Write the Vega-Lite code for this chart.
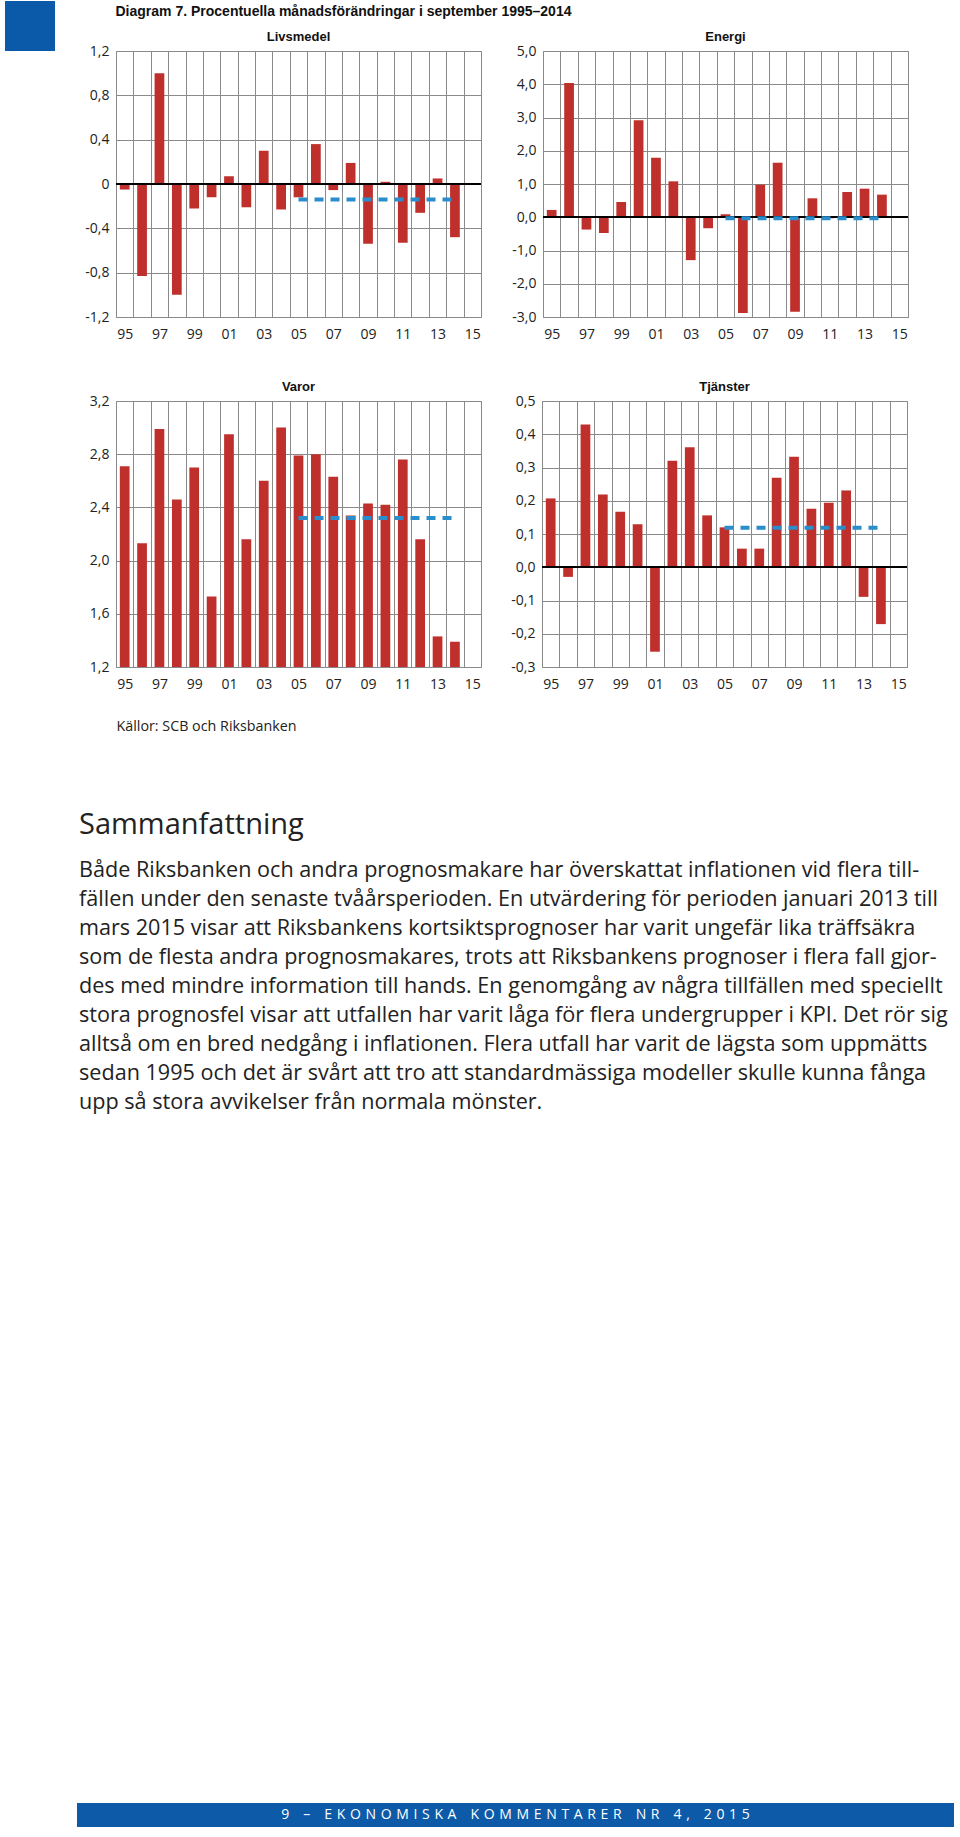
{
  "$schema": "https://vega.github.io/schema/vega-lite/v6.json",
  "background": "white",
  "padding": {"left": 5, "top": 1, "right": 0, "bottom": 0},
  "config": {
    "view": {"stroke": "#8a8a8a"},
    "axis": {"gridColor": "#8a8a8a", "gridOpacity": 1, "gridWidth": 1, "labelFont": "Open Sans", "labelFontSize": 14, "labelColor": "#222222", "labelOverlap": false},
    "title": {"font": "Liberation Sans", "fontWeight": "bold", "color": "#111111"}
  },
  "datasets": {
    "livsmedel": [
      {"year": 1995, "value": -0.05}, {"year": 1996, "value": -0.83}, {"year": 1997, "value": 1.0}, {"year": 1998, "value": -1.0},
      {"year": 1999, "value": -0.22}, {"year": 2000, "value": -0.12}, {"year": 2001, "value": 0.07}, {"year": 2002, "value": -0.21},
      {"year": 2003, "value": 0.3}, {"year": 2004, "value": -0.23}, {"year": 2005, "value": -0.12}, {"year": 2006, "value": 0.36},
      {"year": 2007, "value": -0.055}, {"year": 2008, "value": 0.19}, {"year": 2009, "value": -0.54}, {"year": 2010, "value": 0.02},
      {"year": 2011, "value": -0.53}, {"year": 2012, "value": -0.26}, {"year": 2013, "value": 0.05}, {"year": 2014, "value": -0.48}
    ],
    "livsmedel_avg": [{"year": 2005, "value": -0.14}, {"year": 2014, "value": -0.14}],
    "energi": [
      {"year": 1995, "value": 0.22}, {"year": 1996, "value": 4.04}, {"year": 1997, "value": -0.37}, {"year": 1998, "value": -0.47},
      {"year": 1999, "value": 0.46}, {"year": 2000, "value": 2.92}, {"year": 2001, "value": 1.79}, {"year": 2002, "value": 1.08},
      {"year": 2003, "value": -1.29}, {"year": 2004, "value": -0.33}, {"year": 2005, "value": 0.09}, {"year": 2006, "value": -2.88},
      {"year": 2007, "value": 0.98}, {"year": 2008, "value": 1.64}, {"year": 2009, "value": -2.84}, {"year": 2010, "value": 0.57},
      {"year": 2011, "value": -0.03}, {"year": 2012, "value": 0.76}, {"year": 2013, "value": 0.86}, {"year": 2014, "value": 0.68}
    ],
    "energi_avg": [{"year": 2005, "value": -0.03}, {"year": 2014, "value": -0.03}],
    "varor": [
      {"year": 1995, "value": 2.71}, {"year": 1996, "value": 2.13}, {"year": 1997, "value": 2.99}, {"year": 1998, "value": 2.46},
      {"year": 1999, "value": 2.7}, {"year": 2000, "value": 1.73}, {"year": 2001, "value": 2.95}, {"year": 2002, "value": 2.16},
      {"year": 2003, "value": 2.6}, {"year": 2004, "value": 3.0}, {"year": 2005, "value": 2.79}, {"year": 2006, "value": 2.8},
      {"year": 2007, "value": 2.63}, {"year": 2008, "value": 2.34}, {"year": 2009, "value": 2.43}, {"year": 2010, "value": 2.42},
      {"year": 2011, "value": 2.76}, {"year": 2012, "value": 2.16}, {"year": 2013, "value": 1.43}, {"year": 2014, "value": 1.39}
    ],
    "varor_avg": [{"year": 2005, "value": 2.32}, {"year": 2014, "value": 2.32}],
    "tjanster": [
      {"year": 1995, "value": 0.207}, {"year": 1996, "value": -0.029}, {"year": 1997, "value": 0.429}, {"year": 1998, "value": 0.219},
      {"year": 1999, "value": 0.167}, {"year": 2000, "value": 0.129}, {"year": 2001, "value": -0.254}, {"year": 2002, "value": 0.32},
      {"year": 2003, "value": 0.361}, {"year": 2004, "value": 0.156}, {"year": 2005, "value": 0.12}, {"year": 2006, "value": 0.056},
      {"year": 2007, "value": 0.056}, {"year": 2008, "value": 0.269}, {"year": 2009, "value": 0.332}, {"year": 2010, "value": 0.176},
      {"year": 2011, "value": 0.194}, {"year": 2012, "value": 0.231}, {"year": 2013, "value": -0.089}, {"year": 2014, "value": -0.171}
    ],
    "tjanster_avg": [{"year": 2005, "value": 0.119}, {"year": 2014, "value": 0.119}],
    "paragraph": [
      {"line": 1, "text": "Både Riksbanken och andra prognosmakare har överskattat inflationen vid flera till-"},
      {"line": 2, "text": "fällen under den senaste tvåårsperioden. En utvärdering för perioden januari 2013 till"},
      {"line": 3, "text": "mars 2015 visar att Riksbankens kortsiktsprognoser har varit ungefär lika träffsäkra"},
      {"line": 4, "text": "som de flesta andra prognosmakares, trots att Riksbankens prognoser i flera fall gjor-"},
      {"line": 5, "text": "des med mindre information till hands. En genomgång av några tillfällen med speciellt"},
      {"line": 6, "text": "stora prognosfel visar att utfallen har varit låga för flera undergrupper i KPI. Det rör sig"},
      {"line": 7, "text": "alltså om en bred nedgång i inflationen. Flera utfall har varit de lägsta som uppmätts"},
      {"line": 8, "text": "sedan 1995 och det är svårt att tro att standardmässiga modeller skulle kunna fånga"},
      {"line": 9, "text": "upp så stora avvikelser från normala mönster."}
    ],
    "footer": [{"label": "9\u2004\u2004\u2004–\u2004\u2004\u2004E\u2004K\u2004O\u2004N\u2004O\u2004M\u2004I\u2004S\u2004K\u2004A\u2004\u2004\u2004K\u2004O\u2004M\u2004M\u2004E\u2004N\u2004T\u2004A\u2004R\u2004E\u2004R\u2004\u2004\u2004N\u2004R\u2004\u2004\u20044\u2004,\u2004\u2004\u20042\u20040\u20041\u20045"}],
    "blank": [{"k": ""}]
  },
  "spacing": 77,
  "vconcat": [
    {
      "spacing": -50,
      "vconcat": [
        {
          "width": 50, "height": 50,
          "view": {"fill": "#0b5aa9", "stroke": null},
          "data": {"name": "blank"},
          "mark": {"type": "text"},
          "encoding": {"text": {"field": "k"}}
        },
        {
          "spacing": 20,
          "hconcat": [
            {
              "width": 58, "height": 10,
              "view": {"stroke": null},
              "data": {"name": "blank"},
              "mark": {"type": "text"},
              "encoding": {"text": {"field": "k"}}
            },
            {
              "title": {"text": "Diagram 7. Procentuella månadsförändringar i september 1995–2014", "anchor": "start", "fontSize": 14, "dx": 32, "offset": 11},
              "spacing": 38,
              "vconcat": [
                {
                  "spacing": 27,
                  "hconcat": [
                    {
                      "title": {"text": "Livsmedel", "fontSize": 13, "offset": 0.5},
                      "width": 365, "height": 266,
                      "data": {"name": "livsmedel"},
                      "layer": [
                        {
                          "mark": {"type": "bar", "color": "#bf302c", "width": {"band": 0.56}},
                          "encoding": {
                            "x": {"field": "year", "type": "ordinal", "scale": {"type": "band", "domain": [1995,1996,1997,1998,1999,2000,2001,2002,2003,2004,2005,2006,2007,2008,2009,2010,2011,2012,2013,2014,2015], "paddingInner": 0, "paddingOuter": 0},
                              "axis": {"title": null, "ticks": false, "domain": false, "grid": true, "tickBand": "extent", "labelAngle": 0, "labelPadding": 10, "labelExpr": "datum.value % 2 == 1 ? slice(datum.label, 2) : ''"}},
                            "y": {"field": "value", "type": "quantitative", "scale": {"domain": [-1.2, 1.2], "nice": false},
                              "axis": {"title": null, "values": [-1.2, -0.8, -0.4, 0, 0.4, 0.8, 1.2], "tickCount": 12, "ticks": false, "domain": false, "labelPadding": 7, "labelOverlap": false, "minExtent": 32, "maxExtent": 32,
                                "labelExpr": "datum.value == 0 ? '0' : (datum.value < 0 ? '-' : '') + replace(format(abs(datum.value), '.1f'), '.', ',')"}}
                          }
                        },
                        {"mark": {"type": "rule", "color": "#000000", "strokeWidth": 1.5}, "encoding": {"y": {"datum": 0}}},
                        {
                          "data": {"name": "livsmedel_avg"},
                          "mark": {"type": "line", "color": "#2a8dcc", "strokeWidth": 4, "strokeDash": [9, 7]},
                          "encoding": {
                            "x": {"field": "year", "type": "ordinal", "scale": {"type": "band", "domain": [1995,1996,1997,1998,1999,2000,2001,2002,2003,2004,2005,2006,2007,2008,2009,2010,2011,2012,2013,2014,2015], "paddingInner": 0, "paddingOuter": 0}},
                            "y": {"field": "value", "type": "quantitative"}
                          }
                        }
                      ]
                    },
                    {
                      "title": {"text": "Energi", "fontSize": 13, "offset": 0.5},
                      "width": 365, "height": 266,
                      "data": {"name": "energi"},
                      "layer": [
                        {
                          "mark": {"type": "bar", "color": "#bf302c", "width": {"band": 0.56}},
                          "encoding": {
                            "x": {"field": "year", "type": "ordinal", "scale": {"type": "band", "domain": [1995,1996,1997,1998,1999,2000,2001,2002,2003,2004,2005,2006,2007,2008,2009,2010,2011,2012,2013,2014,2015], "paddingInner": 0, "paddingOuter": 0},
                              "axis": {"title": null, "ticks": false, "domain": false, "grid": true, "tickBand": "extent", "labelAngle": 0, "labelPadding": 10, "labelExpr": "datum.value % 2 == 1 ? slice(datum.label, 2) : ''"}},
                            "y": {"field": "value", "type": "quantitative", "scale": {"domain": [-3, 5], "nice": false},
                              "axis": {"title": null, "values": [-3, -2, -1, 0, 1, 2, 3, 4, 5], "tickCount": 12, "ticks": false, "domain": false, "labelPadding": 7, "labelOverlap": false, "minExtent": 32, "maxExtent": 32,
                                "labelExpr": "(datum.value < 0 ? '-' : '') + replace(format(abs(datum.value), '.1f'), '.', ',')"}}
                          }
                        },
                        {"mark": {"type": "rule", "color": "#000000", "strokeWidth": 1.5}, "encoding": {"y": {"datum": 0}}},
                        {
                          "data": {"name": "energi_avg"},
                          "mark": {"type": "line", "color": "#2a8dcc", "strokeWidth": 4, "strokeDash": [9, 7]},
                          "encoding": {
                            "x": {"field": "year", "type": "ordinal", "scale": {"type": "band", "domain": [1995,1996,1997,1998,1999,2000,2001,2002,2003,2004,2005,2006,2007,2008,2009,2010,2011,2012,2013,2014,2015], "paddingInner": 0, "paddingOuter": 0}},
                            "y": {"field": "value", "type": "quantitative"}
                          }
                        }
                      ]
                    }
                  ]
                },
                {
                  "spacing": 27,
                  "hconcat": [
                    {
                      "title": {"text": "Varor", "fontSize": 13, "offset": 0.5},
                      "width": 365, "height": 266,
                      "data": {"name": "varor"},
                      "layer": [
                        {
                          "mark": {"type": "bar", "color": "#bf302c", "width": {"band": 0.56}},
                          "encoding": {
                            "x": {"field": "year", "type": "ordinal", "scale": {"type": "band", "domain": [1995,1996,1997,1998,1999,2000,2001,2002,2003,2004,2005,2006,2007,2008,2009,2010,2011,2012,2013,2014,2015], "paddingInner": 0, "paddingOuter": 0},
                              "axis": {"title": "Källor: SCB och Riksbanken", "titleAnchor": "start", "titleAlign": "left", "titleFont": "Open Sans", "titleFontWeight": "normal", "titleFontSize": 14.3, "titleColor": "#222222", "titlePadding": 28,
                                "ticks": false, "domain": false, "grid": true, "tickBand": "extent", "labelAngle": 0, "labelPadding": 10, "labelExpr": "datum.value % 2 == 1 ? slice(datum.label, 2) : ''"}},
                            "y": {"field": "value", "type": "quantitative", "scale": {"domain": [1.2, 3.2], "nice": false, "zero": false},
                              "axis": {"title": null, "values": [1.2, 1.6, 2.0, 2.4, 2.8, 3.2], "tickCount": 12, "ticks": false, "domain": false, "labelPadding": 7, "labelOverlap": false, "minExtent": 32, "maxExtent": 32,
                                "labelExpr": "replace(format(datum.value, '.1f'), '.', ',')"}},
                            "y2": {"datum": 1.2}
                          }
                        },
                        {
                          "data": {"name": "varor_avg"},
                          "mark": {"type": "line", "color": "#2a8dcc", "strokeWidth": 4, "strokeDash": [9, 7]},
                          "encoding": {
                            "x": {"field": "year", "type": "ordinal", "scale": {"type": "band", "domain": [1995,1996,1997,1998,1999,2000,2001,2002,2003,2004,2005,2006,2007,2008,2009,2010,2011,2012,2013,2014,2015], "paddingInner": 0, "paddingOuter": 0}},
                            "y": {"field": "value", "type": "quantitative"}
                          }
                        }
                      ]
                    },
                    {
                      "title": {"text": "Tjänster", "fontSize": 13, "offset": 0.5},
                      "width": 365, "height": 266,
                      "data": {"name": "tjanster"},
                      "layer": [
                        {
                          "mark": {"type": "bar", "color": "#bf302c", "width": {"band": 0.56}},
                          "encoding": {
                            "x": {"field": "year", "type": "ordinal", "scale": {"type": "band", "domain": [1995,1996,1997,1998,1999,2000,2001,2002,2003,2004,2005,2006,2007,2008,2009,2010,2011,2012,2013,2014,2015], "paddingInner": 0, "paddingOuter": 0},
                              "axis": {"title": null, "ticks": false, "domain": false, "grid": true, "tickBand": "extent", "labelAngle": 0, "labelPadding": 10, "labelExpr": "datum.value % 2 == 1 ? slice(datum.label, 2) : ''"}},
                            "y": {"field": "value", "type": "quantitative", "scale": {"domain": [-0.3, 0.5], "nice": false},
                              "axis": {"title": null, "values": [-0.3, -0.2, -0.1, 0, 0.1, 0.2, 0.3, 0.4, 0.5], "tickCount": 12, "ticks": false, "domain": false, "labelPadding": 7, "labelOverlap": false, "minExtent": 32, "maxExtent": 32,
                                "labelExpr": "(datum.value < 0 ? '-' : '') + replace(format(abs(datum.value), '.1f'), '.', ',')"}}
                          }
                        },
                        {"mark": {"type": "rule", "color": "#000000", "strokeWidth": 1.5}, "encoding": {"y": {"datum": 0}}},
                        {
                          "data": {"name": "tjanster_avg"},
                          "mark": {"type": "line", "color": "#2a8dcc", "strokeWidth": 4, "strokeDash": [9, 7]},
                          "encoding": {
                            "x": {"field": "year", "type": "ordinal", "scale": {"type": "band", "domain": [1995,1996,1997,1998,1999,2000,2001,2002,2003,2004,2005,2006,2007,2008,2009,2010,2011,2012,2013,2014,2015], "paddingInner": 0, "paddingOuter": 0}},
                            "y": {"field": "value", "type": "quantitative"}
                          }
                        }
                      ]
                    }
                  ]
                }
              ]
            }
          ]
        }
      ]
    },
    {
      "spacing": 689,
      "vconcat": [
        {
          "title": {"text": "Sammanfattning", "anchor": "start", "font": "Open Sans", "fontWeight": "normal", "fontSize": 29, "color": "#222222", "dx": 74, "offset": 20},
          "width": 880, "height": 232,
          "view": {"fill": "#ffffff", "stroke": null},
          "data": {"name": "paragraph"},
          "mark": {"type": "text", "align": "left", "baseline": "alphabetic", "dx": 74, "font": "Open Sans", "fontSize": 21.6, "color": "#222222"},
          "encoding": {
            "x": {"value": 0},
            "y": {"field": "line", "type": "ordinal", "scale": {"type": "point", "padding": 0}, "axis": null},
            "text": {"field": "text"}
          }
        },
        {
          "spacing": 10,
          "hconcat": [
            {
              "width": 62, "height": 24,
              "view": {"stroke": null},
              "data": {"name": "blank"},
              "mark": {"type": "text"},
              "encoding": {"text": {"field": "k"}}
            },
            {
              "width": 877, "height": 24,
              "view": {"fill": "#0d5ba8", "stroke": null},
              "data": {"name": "footer"},
              "mark": {"type": "text", "color": "#ffffff", "font": "Open Sans", "fontSize": 14, "baseline": "middle"},
              "encoding": {
                "text": {"field": "label"},
                "x": {"field": "label", "type": "nominal", "axis": null},
                "y": {"field": "label", "type": "nominal", "axis": null}
              }
            }
          ]
        }
      ]
    }
  ]
}
